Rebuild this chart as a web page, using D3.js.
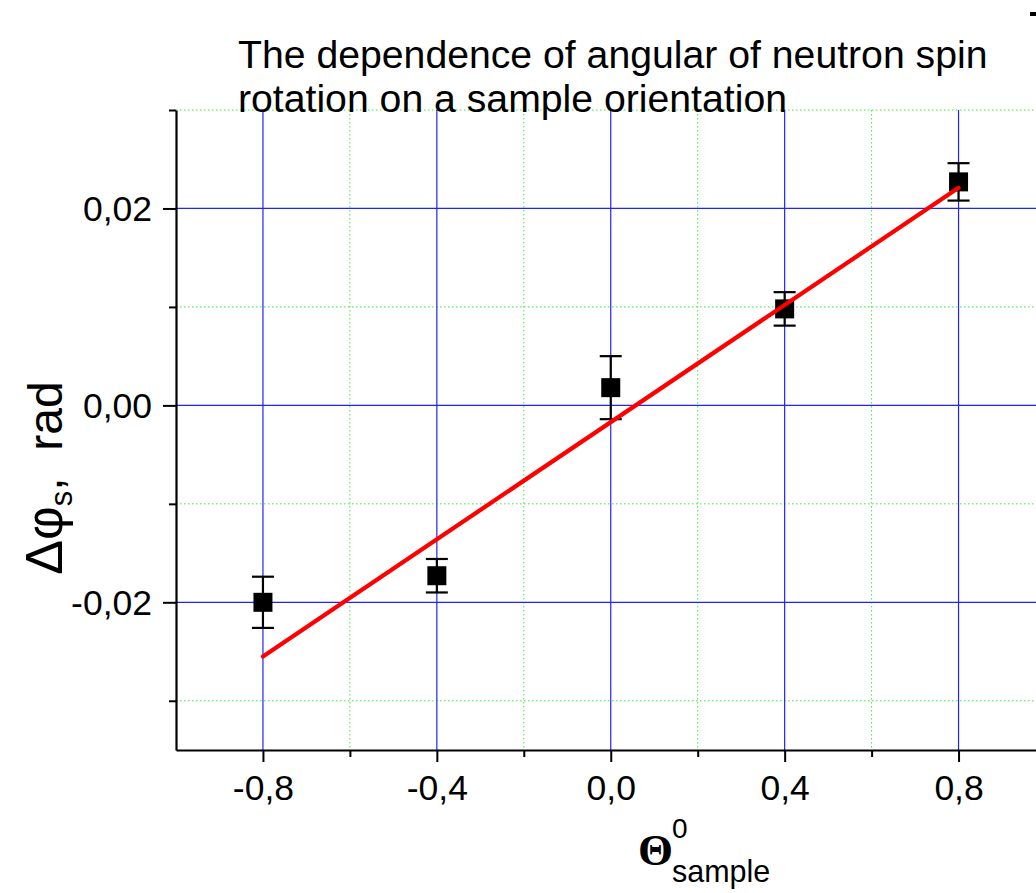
<!DOCTYPE html>
<html>
<head>
<meta charset="utf-8">
<script src="https://cdn.jsdelivr.net/npm/d3@7"></script>
<style>
  html, body { margin: 0; padding: 0; background: #fff; }
  svg { display: block; font-family: "Liberation Sans", Arial, sans-serif; }
</style>
</head>
<body>
<svg id="chart" width="1036" height="893"></svg>
<script>
// ---- data ----
const theta = [-0.8, -0.4, 0.0, 0.4, 0.8];
const deltaPhi = [-0.0200, -0.0173, 0.0018, 0.0098, 0.0227];
const errorBars = [0.0026, 0.0017, 0.0032, 0.0017, 0.0019];
const fitTheta = [-0.8, 0.8];
const fitPhi = [-0.0255, 0.0221];
const xMajorTicks = [-0.8, -0.4, 0.0, 0.4, 0.8];
const xMinorTicks = [-0.6, -0.2, 0.2, 0.6, 1.0];
const yMajorTicks = [-0.02, 0.0, 0.02];
const yMinorTicks = [-0.03, -0.01, 0.01, 0.03];
const titleLines = ["The dependence of angular of neutron spin", "rotation on a sample orientation"];

// ---- layout ----
const svg = d3.select("#chart");
const pLeft = 176, pRight = 1045.5, pTop = 110, pBottom = 750;
const x = d3.scaleLinear().domain([-1, 1]).range([pLeft, pRight]);
const y = d3.scaleLinear().domain([-0.035, 0.03]).range([pBottom, pTop]);
const fmtX = d => d3.format(".1f")(d).replace(".", ",").replace("−", "-");
const fmtY = d => d3.format(".2f")(d).replace(".", ",").replace("−", "-");

// grid
const grid = svg.append("g");
grid.selectAll(".gxm").data(xMinorTicks).join("line")
  .attr("x1", d => x(d)).attr("x2", d => x(d)).attr("y1", pTop).attr("y2", pBottom)
  .attr("stroke", "#33ee33").attr("stroke-width", 1).attr("stroke-dasharray", "1.5,2.5");
grid.selectAll(".gym").data(yMinorTicks).join("line")
  .attr("x1", pLeft).attr("x2", pRight).attr("y1", d => y(d)).attr("y2", d => y(d))
  .attr("stroke", "#33ee33").attr("stroke-width", 1).attr("stroke-dasharray", "1.5,2.5");
grid.selectAll(".gxM").data(xMajorTicks).join("line")
  .attr("x1", d => x(d)).attr("x2", d => x(d)).attr("y1", pTop).attr("y2", pBottom)
  .attr("stroke", "#2222ff").attr("stroke-width", 1.2);
grid.selectAll(".gyM").data(yMajorTicks).join("line")
  .attr("x1", pLeft).attr("x2", pRight).attr("y1", d => y(d)).attr("y2", d => y(d))
  .attr("stroke", "#2222ff").attr("stroke-width", 1.2);

// axes
const xAxis = svg.append("g").attr("transform", `translate(0,${pBottom})`)
  .call(d3.axisBottom(x).tickValues(xMajorTicks).tickFormat(fmtX).tickSize(12).tickSizeOuter(0).tickPadding(13));
const xMinor = svg.append("g").attr("transform", `translate(0,${pBottom})`)
  .call(d3.axisBottom(x).tickValues(xMinorTicks).tickFormat("").tickSize(7).tickSizeOuter(0));
const yAxis = svg.append("g").attr("transform", `translate(${pLeft},0)`)
  .call(d3.axisLeft(y).tickValues(yMajorTicks).tickFormat(fmtY).tickSize(13).tickSizeOuter(0).tickPadding(11));
const yMinor = svg.append("g").attr("transform", `translate(${pLeft},0)`)
  .call(d3.axisLeft(y).tickValues(yMinorTicks).tickFormat("").tickSize(7).tickSizeOuter(0));
[xAxis, xMinor, yAxis, yMinor].forEach(g => {
  g.selectAll("path.domain").attr("stroke", "#000").attr("stroke-width", 2.2);
  g.selectAll(".tick line").attr("stroke", "#000").attr("stroke-width", 2);
  g.selectAll(".tick text").attr("fill", "#000")
    .style("font-family", '"Liberation Sans", Arial, sans-serif').style("font-size", "35.5px");
});
xMinor.select("path.domain").remove();
yMinor.select("path.domain").remove();
yAxis.selectAll(".tick text").attr("dy", "0.33em");

// error bars
const pts = theta.map((t, i) => ({ t, v: deltaPhi[i], e: errorBars[i] }));
const eb = svg.append("g").attr("stroke", "#000").attr("stroke-width", 2.2);
eb.selectAll(".v").data(pts).join("line")
  .attr("x1", d => x(d.t)).attr("x2", d => x(d.t))
  .attr("y1", d => y(d.v + d.e)).attr("y2", d => y(d.v - d.e));
eb.selectAll(".ct").data(pts).join("line")
  .attr("x1", d => x(d.t) - 11).attr("x2", d => x(d.t) + 11)
  .attr("y1", d => y(d.v + d.e)).attr("y2", d => y(d.v + d.e));
eb.selectAll(".cb").data(pts).join("line")
  .attr("x1", d => x(d.t) - 11).attr("x2", d => x(d.t) + 11)
  .attr("y1", d => y(d.v - d.e)).attr("y2", d => y(d.v - d.e));

// markers
svg.append("g").selectAll("rect").data(pts).join("rect")
  .attr("x", d => x(d.t) - 9.5).attr("y", d => y(d.v) - 9.5)
  .attr("width", 19).attr("height", 19).attr("fill", "#000");

// fit line (drawn on top of markers)
svg.append("line")
  .attr("x1", x(fitTheta[0])).attr("y1", y(fitPhi[0]))
  .attr("x2", x(fitTheta[1])).attr("y2", y(fitPhi[1]))
  .attr("stroke", "#ff0000").attr("stroke-width", 4.2).attr("stroke-linecap", "round");

// title
const title = svg.append("text").attr("x", 238).attr("y", 68)
  .style("font-size", "39.2px").attr("fill", "#000");
titleLines.forEach((l, i) => title.append("tspan").attr("x", 238).attr("y", 68 + i * 44).text(l));

// y axis label
const yl = svg.append("text")
  .attr("transform", "translate(62,478) rotate(-90)")
  .attr("text-anchor", "middle").attr("fill", "#000")
  .style("font-size", "48px");
yl.append("tspan").style("font-size", "52px").text("Δφ");
yl.append("tspan").attr("dy", 10).style("font-size", "31px").text("s");
yl.append("tspan").attr("dy", -10).text(",\u00a0 rad");

// x axis label
const xl = svg.append("g");
xl.append("text").attr("x", 638).attr("y", 865)
  .style("font-family", '"Liberation Serif", "DejaVu Serif", serif')
  .style("font-weight", "bold").style("font-size", "45px").attr("fill", "#000").text("Θ");
xl.append("text").attr("x", 672).attr("y", 838)
  .style("font-size", "28px").attr("fill", "#000").text("0");
xl.append("text").attr("x", 672).attr("y", 882)
  .style("font-size", "30.5px").attr("fill", "#000").text("sample");

// small clipped element top right
svg.append("rect").attr("x", 1030).attr("y", 12).attr("width", 6).attr("height", 4).attr("fill", "#000");
</script>
</body>
</html>
